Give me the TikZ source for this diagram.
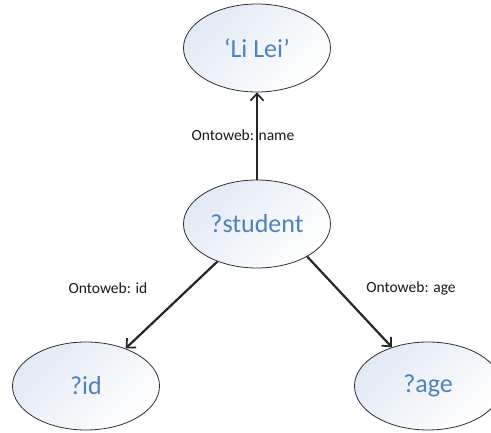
\documentclass[tikz,border=0pt]{standalone}
\usepackage{fontspec}
\setmainfont{Carlito}
\usetikzlibrary{shapes.geometric,arrows.meta}
\definecolor{txtblue}{HTML}{4F81BD}
\definecolor{fillblue}{HTML}{E2E9F5}
\definecolor{edgegray}{HTML}{303030}
\tikzset{
  bubble/.style={ellipse, draw=edgegray, line width=0.8pt, minimum width=147pt, minimum height=88pt,
    inner sep=0pt, top color=fillblue, bottom color=white, shading angle=45,
    text=txtblue, font=\fontsize{26}{30}\selectfont},
  arr/.style={draw=black!85, line width=2.2pt, -{Straight Barb[length=7pt,width=13pt,line width=1.7pt]}},
  lbl/.style={font=\fontsize{15.5}{18}\selectfont, text=black!90, inner sep=1pt}
}
\begin{document}
\begin{tikzpicture}[x=1pt,y=-1pt]
\useasboundingbox (0,0) rectangle (491,433);
\begin{scope}
\clip (0,0) rectangle (491,433);
\node[bubble] (lilei) at (257,48) {‘Li Lei’};
\node[bubble] (student) at (257,224) {?student};
\node[bubble] (id) at (86,386) {?id};
\node[bubble] (age) at (428,386) {?age};
\end{scope}
\draw[arr] (student) -- (lilei);
\draw[arr] (student) -- (id);
\draw[arr] (student.-33) -- (age.133);
\node[lbl] (lname) at (243,135) {Ontoweb: name};
\node[lbl] (lid) at (108,288) {Ontoweb: id};
\node[lbl] (lage) at (411,288) {Ontoweb: age};
\end{tikzpicture}
\end{document}
